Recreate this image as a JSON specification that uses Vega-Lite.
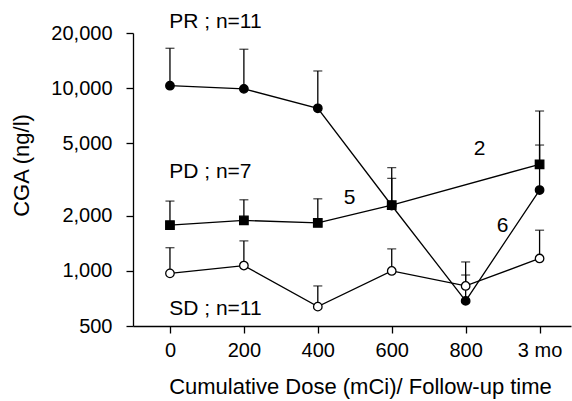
{
  "$schema": "https://vega.github.io/schema/vega-lite/v6.json",
  "width": 438,
  "height": 293,
  "autosize": {"type": "none"},
  "padding": {"left": 133, "top": 33, "right": 1, "bottom": 75},
  "background": "white",
  "config": {
    "view": {"stroke": null},
    "font": "Liberation Sans",
    "axis": {
      "grid": false,
      "domainColor": "black",
      "domainWidth": 1.3,
      "tickColor": "black",
      "tickWidth": 1.3,
      "tickSize": 7,
      "labelColor": "black",
      "labelFont": "Liberation Sans",
      "labelFontSize": 20,
      "titleFont": "Liberation Sans",
      "titleFontSize": 22,
      "titleFontWeight": "normal",
      "titleColor": "black"
    }
  },
  "datasets": {
    "pts": [
      {"series": "PR", "dose": 0, "value": 10300, "upper": 16500},
      {"series": "PR", "dose": 200, "value": 9900, "upper": 16300},
      {"series": "PR", "dose": 400, "value": 7750, "upper": 12400},
      {"series": "PR", "dose": 600, "value": 2280, "upper": 3210},
      {"series": "PR", "dose": 800, "value": 686, "upper": 1120},
      {"series": "PR", "dose": 1000, "value": 2770, "upper": 4880},
      {"series": "PD", "dose": 0, "value": 1780, "upper": 2410},
      {"series": "PD", "dose": 200, "value": 1890, "upper": 2450},
      {"series": "PD", "dose": 400, "value": 1830, "upper": 2480},
      {"series": "PD", "dose": 600, "value": 2290, "upper": 3670},
      {"series": "PD", "dose": 1000, "value": 3830, "upper": 7490},
      {"series": "SD", "dose": 0, "value": 970, "upper": 1340},
      {"series": "SD", "dose": 200, "value": 1070, "upper": 1460},
      {"series": "SD", "dose": 400, "value": 638, "upper": 828},
      {"series": "SD", "dose": 600, "value": 1000, "upper": 1320},
      {"series": "SD", "dose": 800, "value": 828, "upper": 950},
      {"series": "SD", "dose": 1000, "value": 1170, "upper": 1670}
    ],
    "groupLabels": [
      {"label": "PR ; n=11", "dose": -2, "value": 23080},
      {"label": "PD ; n=7", "dose": -2, "value": 3475},
      {"label": "SD ; n=11", "dose": -2, "value": 620}
    ],
    "numLabels": [
      {"label": "5", "dose": 486, "value": 2500},
      {"label": "2", "dose": 838, "value": 4640},
      {"label": "6", "dose": 900, "value": 1760}
    ]
  },
  "layer": [
    {
      "data": {"name": "pts"},
      "mark": {"type": "line", "color": "black", "strokeWidth": 1.3, "clip": false},
      "encoding": {
        "x": {
          "field": "dose", "type": "quantitative",
          "scale": {"domain": [-100, 1085], "nice": false, "zero": false},
          "axis": {
            "values": [0, 200, 400, 600, 800, 1000],
            "labelExpr": "datum.value == 1000 ? '3 mo' : datum.label",
            "labelPadding": 7,
            "title": "Cumulative Dose (mCi)/ Follow-up time",
            "titleX": 227,
            "titleY": 60,
            "titleBaseline": "middle"
          }
        },
        "y": {
          "field": "value", "type": "quantitative",
          "scale": {"type": "log", "domain": [500, 20000], "nice": false},
          "axis": {
            "values": [500, 1000, 2000, 5000, 10000, 20000],
            "format": ",d",
            "labelPadding": 14,
            "title": "CGA (ng/l)",
            "titleX": -112,
            "titleY": 132,
            "titleBaseline": "middle",
            "titleAngle": -90
          }
        },
        "detail": {"field": "series"}
      }
    },
    {
      "data": {"name": "pts"},
      "mark": {"type": "rule", "color": "black", "strokeWidth": 1.3},
      "encoding": {
        "x": {"field": "dose", "type": "quantitative"},
        "y": {"field": "value", "type": "quantitative"},
        "y2": {"field": "upper"}
      }
    },
    {
      "data": {"name": "pts"},
      "mark": {"type": "tick", "orient": "horizontal", "size": 9, "thickness": 1.3, "color": "black"},
      "encoding": {
        "x": {"field": "dose", "type": "quantitative"},
        "y": {"field": "upper", "type": "quantitative"}
      }
    },
    {
      "data": {"name": "pts"},
      "mark": {"type": "point", "filled": true, "stroke": "black", "strokeWidth": 1.3, "size": 72, "opacity": 1},
      "encoding": {
        "x": {"field": "dose", "type": "quantitative"},
        "y": {"field": "value", "type": "quantitative"},
        "shape": {
          "field": "series", "type": "nominal",
          "scale": {"domain": ["PR", "PD", "SD"], "range": ["circle", "square", "circle"]},
          "legend": null
        },
        "fill": {
          "field": "series", "type": "nominal",
          "scale": {"domain": ["PR", "PD", "SD"], "range": ["black", "black", "white"]},
          "legend": null
        }
      }
    },
    {
      "data": {"name": "groupLabels"},
      "mark": {"type": "text", "align": "left", "baseline": "middle", "fontSize": 21, "color": "black", "font": "Liberation Sans"},
      "encoding": {
        "x": {"field": "dose", "type": "quantitative"},
        "y": {"field": "value", "type": "quantitative"},
        "text": {"field": "label"}
      }
    },
    {
      "data": {"name": "numLabels"},
      "mark": {"type": "text", "align": "center", "baseline": "middle", "fontSize": 21, "color": "black", "font": "Liberation Sans"},
      "encoding": {
        "x": {"field": "dose", "type": "quantitative"},
        "y": {"field": "value", "type": "quantitative"},
        "text": {"field": "label"}
      }
    }
  ]
}
